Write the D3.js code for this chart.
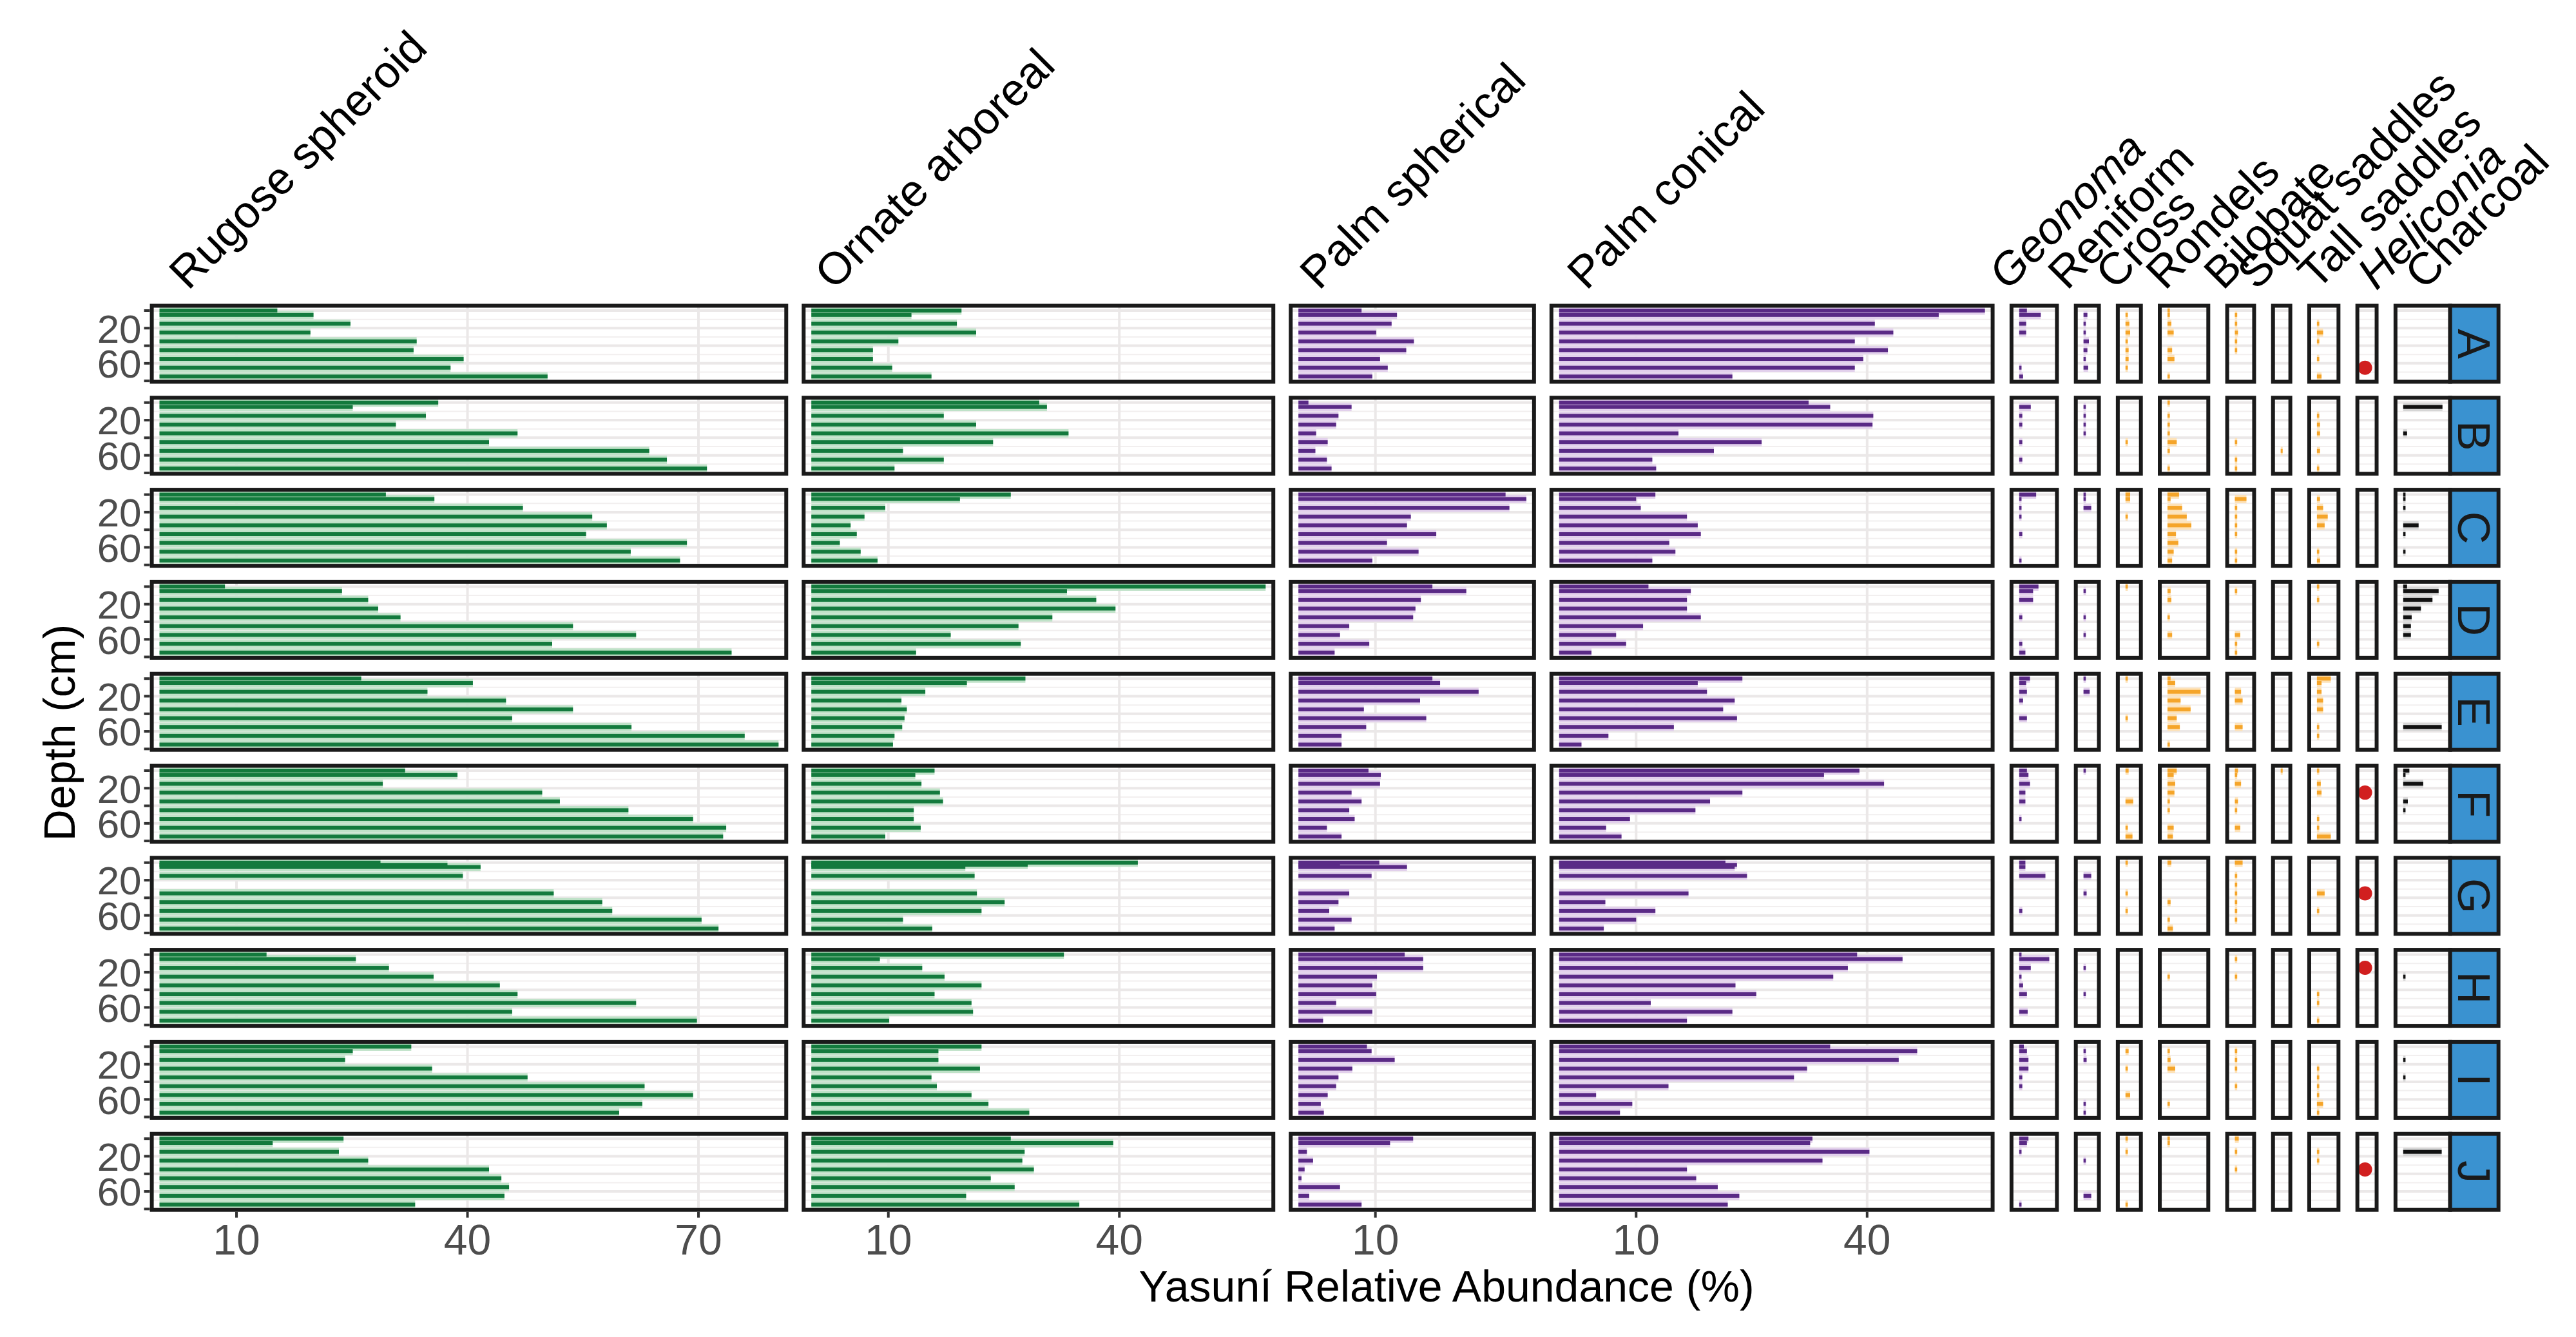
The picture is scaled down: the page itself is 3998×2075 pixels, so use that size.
<!DOCTYPE html>
<html>
<head>
<meta charset="utf-8">
<script src="https://cdn.jsdelivr.net/npm/d3@7"></script>
<style>
body { margin: 0; background: #fff; }
text { font-family: "Liberation Sans", Arial, Helvetica, sans-serif; }
</style>
</head>
<body>
<div id="my_dataviz"></div>
<script>
// rows (sites) and sample depths
var rows = ["A", "B", "C", "D", "E", "F", "G", "H", "I", "J"];
var depths = [0, 5, 15, 25, 35, 45, 55, 65, 75];
var depthsG = [0, 2.5, 5, 15, 25, 35, 45, 55, 65, 75];   // site G has one extra sample near the top
var yTicks = [0, 20, 40, 60, 80];
var yLabels = [20, 60];
var xBreaks = [10, 40, 70];

// relative abundance (%), one array per site, top to bottom
var rugose = [
  [15.3, 20.0, 24.8, 19.6, 33.4, 33.0, 39.5, 37.8, 50.4],
  [36.2, 25.1, 34.6, 30.7, 46.5, 42.8, 63.6, 65.9, 71.1],
  [29.4, 35.7, 47.2, 56.2, 58.1, 55.4, 68.5, 61.2, 67.6],
  [8.5, 23.7, 27.1, 28.4, 31.3, 53.7, 61.9, 51.0, 74.3],
  [26.2, 40.7, 34.8, 45.0, 53.7, 45.8, 61.3, 76.0, 80.4],
  [31.9, 38.7, 29.0, 49.7, 52.0, 60.9, 69.3, 73.6, 73.2],
  [28.7, 37.4, 41.7, 39.4, null, 51.2, 57.5, 58.8, 70.4, 72.6],
  [13.9, 25.5, 29.8, 35.6, 44.2, 46.5, 61.9, 45.8, 69.8],
  [32.7, 25.1, 24.1, 35.4, 47.8, 63.0, 69.3, 62.7, 59.7],
  [23.9, 14.7, 23.3, 27.1, 42.8, 44.4, 45.4, 44.8, 33.2]
];
var ornate = [
  [19.5, 13.0, 18.9, 21.4, 11.3, 8.0, 8.0, 10.5, 15.6],
  [29.6, 30.6, 17.2, 21.4, 33.4, 23.6, 11.9, 17.2, 10.8],
  [25.9, 19.3, 9.6, 6.9, 5.1, 5.9, 3.7, 6.4, 8.6],
  [59.0, 33.2, 37.0, 39.5, 31.3, 26.9, 18.1, 27.2, 13.6],
  [27.8, 20.2, 14.8, 11.7, 12.4, 12.1, 11.8, 10.8, 10.6],
  [16.0, 13.5, 14.3, 16.7, 17.1, 13.3, 13.3, 14.2, 9.6],
  [42.4, 28.1, 20.0, 21.2, null, 21.5, 25.1, 22.1, 11.9, 15.7],
  [32.8, 8.9, 14.4, 17.3, 22.1, 16.0, 20.8, 21.0, 10.1],
  [22.1, 16.5, 16.5, 21.9, 15.6, 16.3, 20.8, 23.0, 28.3],
  [25.9, 39.2, 27.7, 27.4, 28.9, 23.3, 26.4, 20.1, 34.8]
];
var palmSpherical = [
  [8.2, 12.8, 12.1, 10.1, 15.0, 14.0, 10.6, 11.6, 9.6],
  [1.3, 6.9, 5.2, 4.9, 2.3, 3.8, 2.2, 3.7, 4.3],
  [26.9, 29.6, 27.4, 14.6, 14.1, 17.9, 11.5, 15.6, 9.6],
  [17.4, 21.8, 15.9, 15.2, 14.9, 6.6, 5.4, 9.2, 4.7],
  [17.4, 18.4, 23.4, 15.8, 8.5, 16.6, 8.8, 5.6, 5.6],
  [9.1, 10.7, 10.6, 6.9, 8.2, 6.6, 7.3, 3.7, 5.6],
  [10.5, 5.4, 14.1, 9.5, null, 6.6, 5.2, 4.0, 6.9, 4.7],
  [13.8, 16.2, 16.2, 10.2, 9.6, 10.1, 4.9, 9.6, 3.2],
  [8.9, 9.5, 12.5, 7.0, 5.2, 4.9, 3.8, 2.9, 3.3],
  [14.9, 11.9, 1.1, 1.9, 0.8, 0.4, 5.4, 1.4, 8.2]
];
var palmConical = [
  [55.3, 49.3, 41.0, 43.4, 38.4, 42.7, 39.5, 38.4, 22.5],
  [32.4, 35.2, 40.8, 40.7, 15.5, 26.3, 20.1, 12.1, 12.6],
  [12.5, 10.0, 10.6, 16.6, 18.0, 18.4, 14.3, 15.1, 12.1],
  [11.6, 17.1, 16.6, 16.6, 18.4, 10.9, 7.4, 8.7, 4.2],
  [23.8, 18.0, 19.2, 22.8, 21.3, 23.1, 14.9, 6.4, 2.9],
  [39.0, 34.4, 42.2, 23.8, 19.6, 17.7, 9.2, 6.1, 8.1],
  [21.6, 23.1, 22.8, 24.4, null, 16.8, 6.0, 12.5, 10.0, 5.8],
  [38.7, 44.6, 37.5, 35.6, 22.9, 25.6, 11.9, 22.5, 16.6],
  [35.2, 46.5, 44.1, 32.2, 30.5, 14.2, 4.8, 9.5, 7.9],
  [32.9, 32.6, 40.3, 34.2, 16.6, 17.8, 20.6, 23.4, 21.9]
];
var geonoma = [
  [1.0, 2.8, 0.9, 0.9, 0, 0, 0, 0.3, 0.5],
  [0, 1.5, 0.4, 0.4, 0, 0.4, 0, 0.4, 0],
  [2.2, 0.3, 0.3, 0.3, 0, 0.4, 0, 0, 0.3],
  [2.5, 1.8, 1.8, 0, 0.4, 0, 0, 0.4, 0.8],
  [1.4, 0.9, 1.0, 0.5, 0, 1.0, 0, 0, 0],
  [1.0, 1.2, 1.4, 0.8, 0.8, 0, 0.3, 0, 0],
  [0.8, 0, 0.8, 3.4, 0, 0, 0, 0.4, 0, 0],
  [0.3, 3.9, 1.5, 0.3, 0.5, 1.0, 0, 1.1, 0],
  [0.6, 1.0, 1.2, 1.2, 0.4, 0.4, 0, 0, 0],
  [1.2, 1.0, 0.3, 0, 0, 0, 0, 0, 0.3]
];
var reniform = [
  [0, 0.5, 0.3, 0.3, 0.7, 0.5, 0.3, 0.6, 0],
  [0, 0.3, 0.3, 0.3, 0.3, 0, 0, 0, 0],
  [0.3, 0.3, 1.0, 0, 0, 0, 0, 0, 0],
  [0, 0.3, 0, 0, 0.3, 0, 0.3, 0, 0],
  [0.3, 0, 0.8, 0, 0, 0, 0, 0, 0],
  [0.3, 0, 0, 0, 0, 0, 0, 0, 0],
  [0, 0, 0, 1.0, 0, 0.4, 0, 0, 0, 0],
  [0, 0, 0.3, 0, 0, 0.3, 0, 0, 0],
  [0, 0.3, 0.4, 0, 0, 0, 0, 0.3, 0.3],
  [0, 0, 0, 0.3, 0, 0, 0, 1.0, 0]
];
var cross = [
  [0, 0.3, 0.5, 0.6, 0.3, 0.4, 0.4, 0.3, 0],
  [0, 0, 0, 0, 0, 0.3, 0, 0, 0],
  [0.6, 0.6, 0, 0.3, 0, 0, 0, 0, 0],
  [0.3, 0, 0, 0, 0, 0, 0, 0, 0],
  [0.3, 0, 0, 0, 0, 0.3, 0, 0, 0],
  [0.4, 0, 0, 0, 1.0, 0, 0, 0.3, 0.9],
  [0.3, 0, 0, 0, 0, 0.3, 0, 0.3, 0, 0],
  [0, 0, 0, 0, 0, 0, 0, 0, 0],
  [0, 0.4, 0, 0.3, 0, 0, 0.6, 0, 0],
  [0.3, 0, 0.3, 0, 0, 0, 0, 0, 0.3]
];
var rondels = [
  [0.3, 0.3, 0.5, 0.8, 0, 0.6, 0.9, 0, 0.3],
  [0.3, 0, 0.3, 0.3, 0.3, 1.2, 0.3, 0, 0.3],
  [1.5, 0.4, 1.9, 2.5, 3.1, 1.1, 1.4, 0.8, 0.6],
  [0, 0.4, 0.5, 0, 0.3, 0, 0.6, 0, 0],
  [0.4, 1.0, 4.3, 1.7, 3.0, 1.2, 1.6, 0, 0.3],
  [1.2, 0.8, 1.0, 0.9, 0.3, 0.3, 0, 0.8, 0.7],
  [0.5, 0, 0, 0, 0, 0, 0.4, 0, 0.3, 0.7],
  [0, 0, 0, 0.3, 0, 0, 0, 0, 0],
  [0, 0.3, 0.4, 1.0, 0, 0, 0, 0.3, 0],
  [0.3, 0.3, 0, 0, 0, 0, 0, 0, 0]
];
var bilobate = [
  [0, 0.3, 0.3, 0.4, 0.3, 0.3, 0, 0, 0],
  [0, 0, 0, 0, 0, 0.3, 0, 0.3, 0.3],
  [0, 1.5, 0.3, 0.3, 0.3, 0.3, 0, 0.3, 0.3],
  [0, 0.3, 0, 0, 0, 0, 0.7, 0.3, 0.3],
  [0, 0, 0.8, 1.0, 0, 0, 1.0, 0, 0],
  [0.4, 0.3, 0.8, 0, 0.4, 0.3, 0, 0.7, 0],
  [1.0, 0, 0, 0.3, 0.3, 0.3, 0.3, 0.3, 0.3, 0],
  [0, 0.3, 0, 0.3, 0, 0, 0, 0, 0],
  [0, 0.3, 0.3, 0.3, 0, 0.3, 0, 0, 0],
  [0.5, 0, 0.3, 0, 0.3, 0, 0, 0, 0]
];
var squatSaddles = [
  [0, 0, 0, 0, 0, 0, 0, 0, 0],
  [0, 0, 0, 0, 0, 0, 0.25, 0, 0],
  [0, 0, 0, 0, 0, 0, 0, 0, 0],
  [0, 0, 0, 0, 0, 0, 0, 0, 0],
  [0, 0, 0, 0, 0, 0, 0, 0, 0],
  [0.25, 0, 0, 0, 0, 0, 0, 0, 0],
  [0, 0, 0, 0, 0, 0, 0, 0, 0, 0],
  [0, 0, 0, 0, 0, 0, 0, 0, 0],
  [0, 0, 0, 0, 0, 0, 0, 0, 0],
  [0, 0, 0, 0, 0, 0, 0, 0, 0]
];
var tallSaddles = [
  [0, 0, 0.3, 0.8, 0.3, 0, 0.3, 0, 0.6],
  [0, 0, 0.3, 0.4, 0.4, 0, 0.4, 0, 0.3],
  [0, 0.4, 0.8, 1.4, 1.0, 0, 0, 0.3, 0.4],
  [0.3, 0, 0.3, 0, 0, 0, 0, 0.3, 0],
  [1.8, 0.6, 0.6, 0.8, 0.8, 0, 0.3, 0.3, 0],
  [0.3, 0, 0.5, 0.6, 0, 0, 0.3, 0.3, 1.8],
  [0, 0, 0, 0, 0, 1.0, 0, 0.3, 0, 0],
  [0, 0, 0, 0, 0, 0.3, 0.3, 0, 0.3],
  [0, 0, 0, 0.3, 0.3, 0.3, 0.3, 0.8, 0.3],
  [0, 0, 0.3, 0.3, 0, 0, 0, 0, 0]
];
// Heliconia: depth (cm) where it was found, null = absent
var heliconia = [65, null, null, null, null, 25, 35, 15, null, 35];
var charcoal = [
  [0, 0, 0, 0, 0, 0, 0, 0, 0],
  [0, 5.1, 0, 0, 0.5, 0, 0, 0, 0],
  [0.3, 0.3, 0.3, 0, 2.0, 0.3, 0, 0.3, 0],
  [0.5, 4.6, 3.8, 2.3, 1.1, 1.0, 1.0, 0, 0],
  [0, 0, 0, 0, 0, 0, 5.0, 0, 0],
  [0.8, 0.3, 2.6, 0, 0.6, 0.3, 0, 0, 0],
  [0, 0, 0, 0, 0, 0, 0, 0, 0, 0],
  [0, 0, 0, 0.3, 0, 0, 0, 0, 0],
  [0, 0, 0.3, 0, 0.3, 0, 0, 0, 0],
  [0, 0, 5.0, 0, 0, 0, 0, 0, 0]
];

var green = "#137a3d", purple = "#5a2a86", orange = "#f5a52a";
var greenHalo = "#bfe2c8", purpleHalo = "#e2d0ec", orangeHalo = "#fde2b8";
var columns = [
  {name: "Rugose spheroid", values: rugose, color: green, halo: greenHalo, tx: 292},
  {name: "Ornate arboreal", values: ornate, color: green, halo: greenHalo, tx: 1294},
  {name: "Palm spherical", values: palmSpherical, color: purple, halo: purpleHalo, tx: 2047},
  {name: "Palm conical", values: palmConical, color: purple, halo: purpleHalo, tx: 2462},
  {name: "Geonoma", values: geonoma, color: purple, halo: purpleHalo, tx: 3116, italic: true},
  {name: "Reniform", values: reniform, color: purple, halo: purpleHalo, tx: 3208},
  {name: "Cross", values: cross, color: orange, halo: orangeHalo, tx: 3282},
  {name: "Rondels", values: rondels, color: orange, halo: orangeHalo, tx: 3360},
  {name: "Bilobate", values: bilobate, color: orange, halo: orangeHalo, tx: 3450},
  {name: "Squat saddles", values: squatSaddles, color: orange, halo: orangeHalo, tx: 3502},
  {name: "Tall saddles", values: tallSaddles, color: orange, halo: orangeHalo, tx: 3596},
  {name: "Heliconia", values: null, dots: heliconia, color: "#d11f1f", tx: 3688, italic: true, hi: 1.5},
  {name: "Charcoal", values: charcoal, color: "#111111", halo: "#d6d6d6", tx: 3762}
];

// layout
var W = 3998, H = 2075;
var panelLeft = 235.6, panelRight = 3802.7, stripW = 75;
var k = 11.95;          // px per percent, shared by every panel (free space)
var gapBig = 27, nBig = 4;
var rowTop = 474.5, rowStep = 142.8, panelH = 118;
var yDomain = [-5.5, 81];
var border = 6;

var svg = d3.select("#my_dataviz")
  .append("svg")
  .attr("width", W)
  .attr("height", H);
svg.append("rect").attr("width", W).attr("height", H).attr("fill", "#fff");

// each panel covers [-1, max + 1]
columns.forEach(function(c) {
  c.lo = -1;
  if (c.hi == null) {
    c.hi = d3.max(c.values, function(r) { return d3.max(r, function(v) { return v || 0; }); }) + 1;
  }
  c.w = (c.hi - c.lo) * k;
});
var bigW = d3.sum(columns.slice(0, nBig), function(c) { return c.w; });
var smallW = d3.sum(columns.slice(nBig), function(c) { return c.w; });
var gapSmall = (panelRight - panelLeft - bigW - gapBig * (nBig - 1) - smallW) / (columns.length - nBig);
var xCursor = panelLeft;
columns.forEach(function(c, ci) {
  if (ci > 0) xCursor += ci < nBig ? gapBig : gapSmall;
  c.x0 = xCursor;
  c.x = d3.scaleLinear().domain([c.lo, c.hi]).range([c.x0, c.x0 + c.w]);
  xCursor += c.w;
});

var defs = svg.append("defs");

rows.forEach(function(site, i) {
  var top = rowTop + i * rowStep;
  var y = d3.scaleLinear().domain(yDomain).range([top, top + panelH]);
  var dep = site === "G" ? depthsG : depths;

  columns.forEach(function(c, ci) {
    var id = "clip-" + i + "-" + ci;
    defs.append("clipPath").attr("id", id)
      .append("rect").attr("x", c.x0).attr("y", top).attr("width", c.w).attr("height", panelH);

    var g = svg.append("g");
    var inner = g.append("g").attr("clip-path", "url(#" + id + ")");

    // grid
    inner.selectAll(".minor").data([10, 30, 50, 70]).enter().append("line")
      .attr("x1", c.x0).attr("x2", c.x0 + c.w)
      .attr("y1", function(d) { return y(d); }).attr("y2", function(d) { return y(d); })
      .attr("stroke", "#f2efef").attr("stroke-width", 2);
    inner.selectAll(".major").data(yTicks).enter().append("line")
      .attr("x1", c.x0).attr("x2", c.x0 + c.w)
      .attr("y1", function(d) { return y(d); }).attr("y2", function(d) { return y(d); })
      .attr("stroke", "#ebe8e8").attr("stroke-width", 4);
    inner.selectAll(".vgrid").data(xBreaks.filter(function(b) { return b > c.lo && b < c.hi; }))
      .enter().append("line")
      .attr("x1", function(d) { return c.x(d); }).attr("x2", function(d) { return c.x(d); })
      .attr("y1", top).attr("y2", top + panelH)
      .attr("stroke", "#ebe8e8").attr("stroke-width", 4);

    if (c.dots) {
      if (c.dots[i] != null) {
        inner.append("circle")
          .attr("cx", c.x(0)).attr("cy", y(c.dots[i])).attr("r", 11)
          .attr("fill", c.color);
      }
    } else {
      var bars = c.values[i].map(function(v, j) { return {v: v, d: dep[j]}; })
        .filter(function(b) { return b.v != null && b.v > 0; });
      inner.selectAll(".halo").data(bars).enter().append("rect")
        .attr("x", c.x(0))
        .attr("y", function(b) { return y(b.d) - 6.5; })
        .attr("width", function(b) { return c.x(b.v) - c.x(0); })
        .attr("height", 13)
        .attr("fill", c.halo);
      inner.selectAll(".bar").data(bars).enter().append("rect")
        .attr("x", c.x(0))
        .attr("y", function(b) { return y(b.d) - 3; })
        .attr("width", function(b) { return c.x(b.v) - c.x(0); })
        .attr("height", 6)
        .attr("fill", c.color);
    }

    g.append("rect")
      .attr("x", c.x0).attr("y", top).attr("width", c.w).attr("height", panelH)
      .attr("fill", "none").attr("stroke", "#1a1a1a").attr("stroke-width", border);

    // depth axis on the first column
    if (ci === 0) {
      g.selectAll(".ytick").data(yTicks).enter().append("line")
        .attr("x1", c.x0 - border / 2 - 9).attr("x2", c.x0 - border / 2)
        .attr("y1", function(d) { return y(d); }).attr("y2", function(d) { return y(d); })
        .attr("stroke", "#333").attr("stroke-width", 4);
      g.selectAll(".ylab").data(yLabels).enter().append("text")
        .attr("x", c.x0 - border / 2 - 13)
        .attr("y", function(d) { return y(d); })
        .attr("dy", "0.36em")
        .attr("text-anchor", "end")
        .attr("font-size", 62)
        .attr("fill", "#4d4d4d")
        .text(function(d) { return d; });
    }

    // abundance axis under the last row
    if (i === rows.length - 1) {
      var br = xBreaks.filter(function(b) { return b > c.lo && b < c.hi; });
      g.selectAll(".xtick").data(br).enter().append("line")
        .attr("x1", function(d) { return c.x(d); }).attr("x2", function(d) { return c.x(d); })
        .attr("y1", top + panelH + border / 2).attr("y2", top + panelH + border / 2 + 9)
        .attr("stroke", "#333").attr("stroke-width", 4);
      g.selectAll(".xlab").data(br).enter().append("text")
        .attr("x", function(d) { return c.x(d); })
        .attr("y", 1947)
        .attr("text-anchor", "middle")
        .attr("font-size", 66)
        .attr("fill", "#4d4d4d")
        .text(function(d) { return d; });
    }
  });

  // site strip
  svg.append("rect")
    .attr("x", panelRight).attr("y", top).attr("width", stripW).attr("height", panelH)
    .attr("fill", "#3a92d0").attr("stroke", "#1a1a1a").attr("stroke-width", border);
  svg.append("text")
    .attr("transform", "translate(" + (panelRight + stripW / 2) + "," + (top + panelH / 2) + ") rotate(90)")
    .attr("text-anchor", "middle")
    .attr("dy", "0.36em")
    .attr("font-size", 70)
    .attr("fill", "#1a1a1a")
    .text(site);
});

// column titles
svg.selectAll(".ctitle").data(columns).enter().append("text")
  .attr("transform", function(c) { return "translate(" + c.tx + ",452) rotate(-45)"; })
  .attr("font-size", 70)
  .attr("font-style", function(c) { return c.italic ? "italic" : "normal"; })
  .attr("fill", "#000")
  .text(function(c) { return c.name; });

// axis titles
svg.append("text")
  .attr("x", 2245).attr("y", 2020)
  .attr("text-anchor", "middle")
  .attr("font-size", 68)
  .text("Yasuní Relative Abundance (%)");
svg.append("text")
  .attr("transform", "translate(116,1137) rotate(-90)")
  .attr("text-anchor", "middle")
  .attr("font-size", 68)
  .text("Depth (cm)");
</script>
</body>
</html>
